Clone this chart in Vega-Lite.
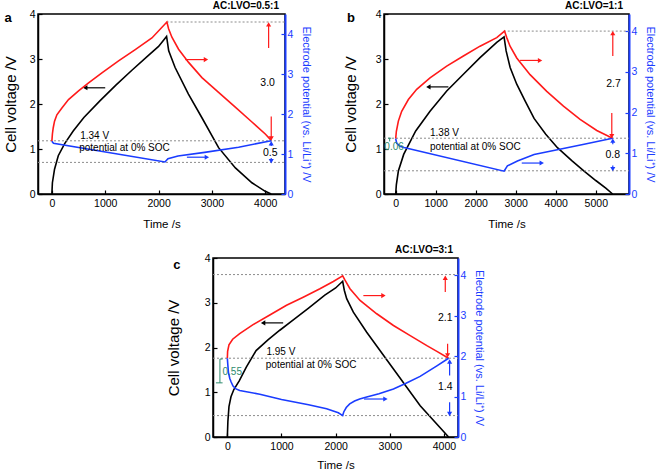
{
"$schema": "https://vega.github.io/schema/vega-lite/v6.json",
"background": "white",
"padding": {"left": 2, "top": 0, "right": 0, "bottom": 0},
"config": {
  "font": "Liberation Sans",
  "view": {"stroke": "black", "strokeWidth": 1.5},
  "axis": {"grid": false, "domainColor": "black", "domainWidth": 1.5, "tickColor": "black", "tickWidth": 1.2, "tickSize": -4, "labelPadding": 7, "labelFont": "Liberation Sans", "labelFontSize": 10.5, "labelColor": "black", "titleFont": "Liberation Sans", "titleFontSize": 11.5, "titleFontWeight": "normal", "titleColor": "black"},
  "axisX": {"titlePadding": 10, "labelPadding": 8, "format": "d"},
  "title": {"font": "Liberation Sans", "fontSize": 10, "fontWeight": "bold", "anchor": "end", "frame": "group", "offset": -2, "color": "black"}
},
"datasets": {
  "curves": [
    {"p":"a","s":"cell","t":0,"v":0},{"p":"a","s":"cell","t":10,"v":0.25},{"p":"a","s":"cell","t":50,"v":0.55},{"p":"a","s":"cell","t":120,"v":0.85},{"p":"a","s":"cell","t":240,"v":1.12},{"p":"a","s":"cell","t":400,"v":1.4},{"p":"a","s":"cell","t":600,"v":1.7},{"p":"a","s":"cell","t":900,"v":2.07},{"p":"a","s":"cell","t":1200,"v":2.42},{"p":"a","s":"cell","t":1500,"v":2.75},{"p":"a","s":"cell","t":1800,"v":3.07},{"p":"a","s":"cell","t":2000,"v":3.28},{"p":"a","s":"cell","t":2150,"v":3.5},{"p":"a","s":"cell","t":2190,"v":3.18},{"p":"a","s":"cell","t":2310,"v":2.81},{"p":"a","s":"cell","t":2560,"v":2.22},{"p":"a","s":"cell","t":2810,"v":1.7},{"p":"a","s":"cell","t":3125,"v":1.03},{"p":"a","s":"cell","t":3440,"v":0.58},{"p":"a","s":"cell","t":3750,"v":0.25},{"p":"a","s":"cell","t":4000,"v":0.06},{"p":"a","s":"cell","t":4110,"v":0},
    {"p":"a","s":"pos","t":0,"v":1.32},{"p":"a","s":"pos","t":10,"v":1.5},{"p":"a","s":"pos","t":25,"v":1.65},{"p":"a","s":"pos","t":50,"v":1.82},{"p":"a","s":"pos","t":94,"v":1.98},{"p":"a","s":"pos","t":188,"v":2.15},{"p":"a","s":"pos","t":312,"v":2.36},{"p":"a","s":"pos","t":500,"v":2.58},{"p":"a","s":"pos","t":688,"v":2.78},{"p":"a","s":"pos","t":938,"v":3.03},{"p":"a","s":"pos","t":1250,"v":3.33},{"p":"a","s":"pos","t":1563,"v":3.61},{"p":"a","s":"pos","t":1875,"v":3.9},{"p":"a","s":"pos","t":2156,"v":4.3},{"p":"a","s":"pos","t":2188,"v":4.13},{"p":"a","s":"pos","t":2250,"v":3.92},{"p":"a","s":"pos","t":2375,"v":3.62},{"p":"a","s":"pos","t":2563,"v":3.29},{"p":"a","s":"pos","t":2813,"v":2.91},{"p":"a","s":"pos","t":3125,"v":2.54},{"p":"a","s":"pos","t":3438,"v":2.17},{"p":"a","s":"pos","t":3750,"v":1.8},{"p":"a","s":"pos","t":4000,"v":1.5},{"p":"a","s":"pos","t":4112,"v":1.34},
    {"p":"a","s":"neg","t":0,"v":1.32},{"p":"a","s":"neg","t":30,"v":1.27},{"p":"a","s":"neg","t":2120,"v":0.8},{"p":"a","s":"neg","t":2176,"v":0.88},{"p":"a","s":"neg","t":2364,"v":0.95},{"p":"a","s":"neg","t":2864,"v":1.04},{"p":"a","s":"neg","t":3500,"v":1.17},{"p":"a","s":"neg","t":4112,"v":1.33},
    {"p":"b","s":"cell","t":0,"v":0},{"p":"b","s":"cell","t":17,"v":0.21},{"p":"b","s":"cell","t":67,"v":0.51},{"p":"b","s":"cell","t":200,"v":0.88},{"p":"b","s":"cell","t":500,"v":1.4},{"p":"b","s":"cell","t":858,"v":1.84},{"p":"b","s":"cell","t":1275,"v":2.29},{"p":"b","s":"cell","t":1692,"v":2.66},{"p":"b","s":"cell","t":2108,"v":3.03},{"p":"b","s":"cell","t":2525,"v":3.37},{"p":"b","s":"cell","t":2708,"v":3.49},{"p":"b","s":"cell","t":2760,"v":3.18},{"p":"b","s":"cell","t":2860,"v":2.81},{"p":"b","s":"cell","t":3025,"v":2.44},{"p":"b","s":"cell","t":3233,"v":2.07},{"p":"b","s":"cell","t":3458,"v":1.68},{"p":"b","s":"cell","t":3750,"v":1.33},{"p":"b","s":"cell","t":4042,"v":1.03},{"p":"b","s":"cell","t":4400,"v":0.74},{"p":"b","s":"cell","t":4708,"v":0.51},{"p":"b","s":"cell","t":5000,"v":0.3},{"p":"b","s":"cell","t":5250,"v":0.13},{"p":"b","s":"cell","t":5420,"v":0},
    {"p":"b","s":"pos","t":0,"v":1.36},{"p":"b","s":"pos","t":17,"v":1.54},{"p":"b","s":"pos","t":67,"v":1.79},{"p":"b","s":"pos","t":150,"v":2.03},{"p":"b","s":"pos","t":317,"v":2.32},{"p":"b","s":"pos","t":525,"v":2.57},{"p":"b","s":"pos","t":858,"v":2.85},{"p":"b","s":"pos","t":1275,"v":3.14},{"p":"b","s":"pos","t":1692,"v":3.39},{"p":"b","s":"pos","t":2108,"v":3.63},{"p":"b","s":"pos","t":2525,"v":3.84},{"p":"b","s":"pos","t":2720,"v":4.0},{"p":"b","s":"pos","t":2775,"v":3.84},{"p":"b","s":"pos","t":2858,"v":3.63},{"p":"b","s":"pos","t":3025,"v":3.34},{"p":"b","s":"pos","t":3358,"v":2.93},{"p":"b","s":"pos","t":3775,"v":2.52},{"p":"b","s":"pos","t":4192,"v":2.16},{"p":"b","s":"pos","t":4608,"v":1.83},{"p":"b","s":"pos","t":5025,"v":1.56},{"p":"b","s":"pos","t":5420,"v":1.37},
    {"p":"b","s":"neg","t":0,"v":1.36},{"p":"b","s":"neg","t":25,"v":1.25},{"p":"b","s":"neg","t":108,"v":1.17},{"p":"b","s":"neg","t":208,"v":1.14},{"p":"b","s":"neg","t":2708,"v":0.56},{"p":"b","s":"neg","t":2792,"v":0.69},{"p":"b","s":"neg","t":3042,"v":0.81},{"p":"b","s":"neg","t":3458,"v":0.97},{"p":"b","s":"neg","t":4100,"v":1.1},{"p":"b","s":"neg","t":4708,"v":1.22},{"p":"b","s":"neg","t":5420,"v":1.37},
    {"p":"c","s":"cell","t":0,"v":0},{"p":"c","s":"cell","t":10,"v":0.35},{"p":"c","s":"cell","t":30,"v":0.68},{"p":"c","s":"cell","t":67,"v":0.9},{"p":"c","s":"cell","t":120,"v":1.06},{"p":"c","s":"cell","t":222,"v":1.26},{"p":"c","s":"cell","t":350,"v":1.56},{"p":"c","s":"cell","t":531,"v":1.93},{"p":"c","s":"cell","t":750,"v":2.17},{"p":"c","s":"cell","t":963,"v":2.38},{"p":"c","s":"cell","t":1200,"v":2.6},{"p":"c","s":"cell","t":1500,"v":2.88},{"p":"c","s":"cell","t":1800,"v":3.17},{"p":"c","s":"cell","t":2000,"v":3.33},{"p":"c","s":"cell","t":2130,"v":3.48},{"p":"c","s":"cell","t":2160,"v":3.28},{"p":"c","s":"cell","t":2204,"v":3.09},{"p":"c","s":"cell","t":2327,"v":2.79},{"p":"c","s":"cell","t":2574,"v":2.34},{"p":"c","s":"cell","t":3068,"v":1.52},{"p":"c","s":"cell","t":3562,"v":0.7},{"p":"c","s":"cell","t":4086,"v":0},
    {"p":"c","s":"pos","t":0,"v":1.95},{"p":"c","s":"pos","t":5,"v":2.12},{"p":"c","s":"pos","t":30,"v":2.28},{"p":"c","s":"pos","t":98,"v":2.42},{"p":"c","s":"pos","t":228,"v":2.56},{"p":"c","s":"pos","t":475,"v":2.78},{"p":"c","s":"pos","t":784,"v":3.02},{"p":"c","s":"pos","t":1093,"v":3.26},{"p":"c","s":"pos","t":1401,"v":3.46},{"p":"c","s":"pos","t":1710,"v":3.67},{"p":"c","s":"pos","t":1957,"v":3.85},{"p":"c","s":"pos","t":2130,"v":3.99},{"p":"c","s":"pos","t":2173,"v":3.88},{"p":"c","s":"pos","t":2265,"v":3.67},{"p":"c","s":"pos","t":2451,"v":3.38},{"p":"c","s":"pos","t":2759,"v":3.05},{"p":"c","s":"pos","t":3068,"v":2.76},{"p":"c","s":"pos","t":3377,"v":2.51},{"p":"c","s":"pos","t":3685,"v":2.26},{"p":"c","s":"pos","t":3870,"v":2.12},{"p":"c","s":"pos","t":4086,"v":1.95},
    {"p":"c","s":"neg","t":0,"v":1.95},{"p":"c","s":"neg","t":8,"v":1.8},{"p":"c","s":"neg","t":20,"v":1.6},{"p":"c","s":"neg","t":45,"v":1.45},{"p":"c","s":"neg","t":70,"v":1.36},{"p":"c","s":"neg","t":105,"v":1.26},{"p":"c","s":"neg","t":160,"v":1.19},{"p":"c","s":"neg","t":228,"v":1.15},{"p":"c","s":"neg","t":600,"v":1.06},{"p":"c","s":"neg","t":1000,"v":0.93},{"p":"c","s":"neg","t":1500,"v":0.8},{"p":"c","s":"neg","t":1833,"v":0.7},{"p":"c","s":"neg","t":2050,"v":0.6},{"p":"c","s":"neg","t":2130,"v":0.53},{"p":"c","s":"neg","t":2150,"v":0.62},{"p":"c","s":"neg","t":2196,"v":0.73},{"p":"c","s":"neg","t":2260,"v":0.82},{"p":"c","s":"neg","t":2350,"v":0.89},{"p":"c","s":"neg","t":2444,"v":0.94},{"p":"c","s":"neg","t":2574,"v":0.99},{"p":"c","s":"neg","t":2800,"v":1.07},{"p":"c","s":"neg","t":3068,"v":1.19},{"p":"c","s":"neg","t":3300,"v":1.33},{"p":"c","s":"neg","t":3560,"v":1.5},{"p":"c","s":"neg","t":3870,"v":1.76},{"p":"c","s":"neg","t":4086,"v":1.95}
  ],
  "dots": [
    {"p":"a","t":2150,"t2":4370,"v":4.3},{"p":"a","t":-260,"t2":4370,"v":1.33},{"p":"a","t":-260,"t2":4370,"v":0.79},
    {"p":"b","t":2700,"t2":5830,"v":4.0},{"p":"b","t":-292,"t2":5830,"v":1.37},{"p":"b","t":-292,"t2":5830,"v":0.57},
    {"p":"c","t":-265,"t2":4260,"v":4.02},{"p":"c","t":-265,"t2":4260,"v":1.95},{"p":"c","t":-265,"t2":4260,"v":0.53}
  ],
  "arrows": [
    {"p":"a","c":"cell","dir":"left","t":625,"v":2.36,"t2":1000,"v2":2.36},
    {"p":"a","c":"pos","dir":"right","t":2888,"v":3.36,"t2":2500,"v2":3.36},
    {"p":"a","c":"neg","dir":"right","t":2906,"v":0.92,"t2":2531,"v2":0.92},
    {"p":"a","c":"pos","dir":"up","t":4063,"v":4.24,"t2":4063,"v2":3.65},
    {"p":"a","c":"pos","dir":"down","t":4112,"v":1.39,"t2":4112,"v2":1.94},
    {"p":"a","c":"neg","dir":"up","t":4112,"v":1.27,"t2":4112,"v2":1.2},
    {"p":"a","c":"neg","dir":"down","t":4112,"v":0.82,"t2":4112,"v2":0.9},
    {"p":"b","c":"cell","dir":"left","t":817,"v":2.38,"t2":1317,"v2":2.38},
    {"p":"b","c":"pos","dir":"right","t":3608,"v":3.28,"t2":3108,"v2":3.28},
    {"p":"b","c":"neg","dir":"right","t":3650,"v":0.76,"t2":3150,"v2":0.76},
    {"p":"b","c":"pos","dir":"up","t":5425,"v":3.95,"t2":5425,"v2":3.39},
    {"p":"b","c":"pos","dir":"down","t":5400,"v":1.42,"t2":5400,"v2":1.99},
    {"p":"b","c":"neg","dir":"up","t":5425,"v":1.31,"t2":5425,"v2":1.22},
    {"p":"b","c":"neg","dir":"down","t":5425,"v":0.61,"t2":5425,"v2":0.7},
    {"p":"c","c":"cell","dir":"left","t":660,"v":2.55,"t2":1031,"v2":2.55},
    {"p":"c","c":"pos","dir":"right","t":2883,"v":3.5,"t2":2512,"v2":3.5},
    {"p":"c","c":"neg","dir":"right","t":2920,"v":0.94,"t2":2525,"v2":0.94},
    {"p":"c","c":"pos","dir":"up","t":4025,"v":3.94,"t2":4025,"v2":3.59},
    {"p":"c","c":"pos","dir":"down","t":4068,"v":2.02,"t2":4068,"v2":2.31},
    {"p":"c","c":"neg","dir":"up","t":4105,"v":1.87,"t2":4105,"v2":1.52},
    {"p":"c","c":"neg","dir":"down","t":4105,"v":0.57,"t2":4105,"v2":0.86}
  ],
  "notes": [
    {"p":"a","k":"note","t":531,"v":1.44,"label":"1.34 V"},
    {"p":"a","k":"note","t":512,"v":1.15,"label":"potential at 0% SOC"},
    {"p":"a","k":"num","t":4044,"v":2.78,"label":"3.0"},
    {"p":"a","k":"num","t":4094,"v":1.03,"label":"0.5"},
    {"p":"b","k":"note","t":858,"v":1.5,"label":"1.38 V"},
    {"p":"b","k":"note","t":858,"v":1.16,"label":"potential at 0% SOC"},
    {"p":"b","k":"num","t":5442,"v":2.69,"label":"2.7"},
    {"p":"b","k":"num","t":5425,"v":0.95,"label":"0.8"},
    {"p":"b","k":"gap","t":-40,"v":1.15,"label":"0.06"},
    {"p":"c","k":"note","t":722,"v":2.1,"label":"1.95 V"},
    {"p":"c","k":"note","t":710,"v":1.79,"label":"potential at 0% SOC"},
    {"p":"c","k":"num","t":4025,"v":2.94,"label":"2.1"},
    {"p":"c","k":"num","t":4025,"v":1.23,"label":"1.4"},
    {"p":"c","k":"gap","t":90,"v":1.6,"label":"0.55"}
  ],
  "brackets": [
    {"p":"b","t":-150,"t2":-150,"v":1.37,"v2":1.29},
    {"p":"b","t":-190,"t2":-110,"v":1.37,"v2":1.37},
    {"p":"c","t":-137,"t2":-137,"v":1.93,"v2":1.34},
    {"p":"c","t":-211,"t2":-88,"v":1.34,"v2":1.34},
    {"p":"c","t":-137,"t2":-88,"v":1.93,"v2":1.93}
  ],
  "labels": [
    {"p":"a","t":-890,"v":3.91,"label":"a"},
    {"p":"b","t":-1217,"v":3.91,"label":"b"},
    {"p":"c","t":-1000,"v":3.84,"label":"c"}
  ],
  "none": []
},
"spacing": 13,
"vconcat": [
  {
    "spacing": 29,
    "hconcat": [
      {
        "width": 247, "height": 180,
        "title": {"text": "AC:LVO=0.5:1", "dx": -6},
        "resolve": {"scale": {"y": "independent"}},
        "layer": [
          {
            "encoding": {
              "x": {"field": "t", "type": "quantitative", "scale": {"domain": [-260, 4370], "nice": false, "zero": false}, "axis": {"title": "Time /s", "values": [0, 1000, 2000, 3000, 4000]}},
              "y": {"field": "v", "type": "quantitative", "scale": {"domain": [0, 4], "nice": false}, "axis": {"title": "Cell voltage /V", "values": [0, 1, 2, 3, 4], "titlePadding": 10.5, "titleFontSize": 15}}
            },
            "layer": [
              {"data": {"name": "curves"}, "transform": [{"filter": "datum.p==='a' && datum.s==='cell'"}], "mark": {"type": "line", "color": "black", "strokeWidth": 1.6}, "encoding": {}},
              {"data": {"name": "arrows"}, "transform": [{"filter": "datum.p==='a' && datum.c==='cell'"}], "mark": {"type": "rule", "color": "black", "strokeWidth": 1.2}, "encoding": {"x2": {"field": "t2"}, "y2": {"field": "v2"}}},
              {"data": {"name": "arrows"}, "transform": [{"filter": "datum.p==='a' && datum.c==='cell'"}], "mark": {"type": "point", "filled": true, "size": 26, "opacity": 1, "color": "black"}, "encoding": {"shape": {"field": "dir", "type": "nominal", "scale": {"domain": ["up", "down", "left", "right"], "range": ["triangle-up", "triangle-down", "triangle-left", "triangle-right"]}, "legend": null}}},
              {"data": {"name": "labels"}, "transform": [{"filter": "datum.p==='a'"}], "mark": {"type": "text", "align": "left", "baseline": "middle", "fontSize": 13, "fontWeight": "bold", "color": "black"}, "encoding": {"text": {"field": "label"}}}
            ]
          },
          {
            "encoding": {
              "x": {"field": "t", "type": "quantitative", "scale": {"domain": [-260, 4370], "nice": false, "zero": false}, "axis": {"title": "Time /s", "values": [0, 1000, 2000, 3000, 4000]}},
              "y": {"field": "v", "type": "quantitative", "scale": {"domain": [0, 4.5], "nice": false}, "axis": {"orient": "right", "title": "Electrode potential (vs. Li/Li⁺) /V", "values": [0, 1, 2, 3, 4], "domainColor": "#1a3cff", "tickColor": "#1a3cff", "labelColor": "#1a3cff", "titleColor": "#1a3cff", "domainWidth": 2, "labelPadding": 6, "titlePadding": 8, "titleFontSize": 11}}
            },
            "layer": [
              {"data": {"name": "dots"}, "transform": [{"filter": "datum.p==='a'"}], "mark": {"type": "rule", "color": "#8c8c8c", "strokeDash": [2, 2], "strokeWidth": 1}, "encoding": {"x2": {"field": "t2"}}},
              {"data": {"name": "curves"}, "transform": [{"filter": "datum.p==='a' && datum.s!=='cell'"}], "mark": {"type": "line", "strokeWidth": 1.6}, "encoding": {"color": {"field": "s", "type": "nominal", "scale": {"domain": ["cell", "pos", "neg", "gap"], "range": ["#000000", "#ff1a1a", "#1a3cff", "#2e8b6e"]}, "legend": null}}},
              {"data": {"name": "arrows"}, "transform": [{"filter": "datum.p==='a' && datum.c!=='cell'"}], "mark": {"type": "rule", "strokeWidth": 1.2}, "encoding": {"x2": {"field": "t2"}, "y2": {"field": "v2"}, "color": {"field": "c", "type": "nominal", "scale": {"domain": ["cell", "pos", "neg", "gap"], "range": ["#000000", "#ff1a1a", "#1a3cff", "#2e8b6e"]}, "legend": null}}},
              {"data": {"name": "arrows"}, "transform": [{"filter": "datum.p==='a' && datum.c!=='cell'"}], "mark": {"type": "point", "filled": true, "size": 26, "opacity": 1}, "encoding": {"color": {"field": "c", "type": "nominal", "scale": {"domain": ["cell", "pos", "neg", "gap"], "range": ["#000000", "#ff1a1a", "#1a3cff", "#2e8b6e"]}, "legend": null}, "shape": {"field": "dir", "type": "nominal", "scale": {"domain": ["up", "down", "left", "right"], "range": ["triangle-up", "triangle-down", "triangle-left", "triangle-right"]}, "legend": null}}},
              {"data": {"name": "notes"}, "transform": [{"filter": "datum.p==='a' && datum.k==='note'"}], "mark": {"type": "text", "align": "left", "baseline": "middle", "fontSize": 10, "color": "black"}, "encoding": {"text": {"field": "label"}}},
              {"data": {"name": "notes"}, "transform": [{"filter": "datum.p==='a' && datum.k==='num'"}], "mark": {"type": "text", "align": "center", "baseline": "middle", "fontSize": 10.5, "color": "black"}, "encoding": {"text": {"field": "label"}}}
            ]
          }
        ]
      },
      {
        "width": 245, "height": 180,
        "title": {"text": "AC:LVO=1:1", "dx": -6},
        "resolve": {"scale": {"y": "independent"}},
        "layer": [
          {
            "encoding": {
              "x": {"field": "t", "type": "quantitative", "scale": {"domain": [-292, 5830], "nice": false, "zero": false}, "axis": {"title": "Time /s", "values": [0, 1000, 2000, 3000, 4000, 5000]}},
              "y": {"field": "v", "type": "quantitative", "scale": {"domain": [0, 4], "nice": false}, "axis": {"title": "Cell voltage /V", "values": [0, 1, 2, 3, 4], "titlePadding": 17, "titleFontSize": 15}}
            },
            "layer": [
              {"data": {"name": "curves"}, "transform": [{"filter": "datum.p==='b' && datum.s==='cell'"}], "mark": {"type": "line", "color": "black", "strokeWidth": 1.6}, "encoding": {}},
              {"data": {"name": "arrows"}, "transform": [{"filter": "datum.p==='b' && datum.c==='cell'"}], "mark": {"type": "rule", "color": "black", "strokeWidth": 1.2}, "encoding": {"x2": {"field": "t2"}, "y2": {"field": "v2"}}},
              {"data": {"name": "arrows"}, "transform": [{"filter": "datum.p==='b' && datum.c==='cell'"}], "mark": {"type": "point", "filled": true, "size": 26, "opacity": 1, "color": "black"}, "encoding": {"shape": {"field": "dir", "type": "nominal", "scale": {"domain": ["up", "down", "left", "right"], "range": ["triangle-up", "triangle-down", "triangle-left", "triangle-right"]}, "legend": null}}},
              {"data": {"name": "labels"}, "transform": [{"filter": "datum.p==='b'"}], "mark": {"type": "text", "align": "left", "baseline": "middle", "fontSize": 13, "fontWeight": "bold", "color": "black"}, "encoding": {"text": {"field": "label"}}}
            ]
          },
          {
            "encoding": {
              "x": {"field": "t", "type": "quantitative", "scale": {"domain": [-292, 5830], "nice": false, "zero": false}, "axis": {"title": "Time /s", "values": [0, 1000, 2000, 3000, 4000, 5000]}},
              "y": {"field": "v", "type": "quantitative", "scale": {"domain": [0, 4.42], "nice": false}, "axis": {"orient": "right", "title": "Electrode potential (vs. Li/Li⁺) /V", "values": [0, 1, 2, 3, 4], "domainColor": "#1a3cff", "tickColor": "#1a3cff", "labelColor": "#1a3cff", "titleColor": "#1a3cff", "domainWidth": 2, "labelPadding": 6, "titlePadding": 8, "titleFontSize": 11}}
            },
            "layer": [
              {"data": {"name": "dots"}, "transform": [{"filter": "datum.p==='b'"}], "mark": {"type": "rule", "color": "#8c8c8c", "strokeDash": [2, 2], "strokeWidth": 1}, "encoding": {"x2": {"field": "t2"}}},
              {"data": {"name": "curves"}, "transform": [{"filter": "datum.p==='b' && datum.s!=='cell'"}], "mark": {"type": "line", "strokeWidth": 1.6}, "encoding": {"color": {"field": "s", "type": "nominal", "scale": {"domain": ["cell", "pos", "neg", "gap"], "range": ["#000000", "#ff1a1a", "#1a3cff", "#2e8b6e"]}, "legend": null}}},
              {"data": {"name": "arrows"}, "transform": [{"filter": "datum.p==='b' && datum.c!=='cell'"}], "mark": {"type": "rule", "strokeWidth": 1.2}, "encoding": {"x2": {"field": "t2"}, "y2": {"field": "v2"}, "color": {"field": "c", "type": "nominal", "scale": {"domain": ["cell", "pos", "neg", "gap"], "range": ["#000000", "#ff1a1a", "#1a3cff", "#2e8b6e"]}, "legend": null}}},
              {"data": {"name": "arrows"}, "transform": [{"filter": "datum.p==='b' && datum.c!=='cell'"}], "mark": {"type": "point", "filled": true, "size": 26, "opacity": 1}, "encoding": {"color": {"field": "c", "type": "nominal", "scale": {"domain": ["cell", "pos", "neg", "gap"], "range": ["#000000", "#ff1a1a", "#1a3cff", "#2e8b6e"]}, "legend": null}, "shape": {"field": "dir", "type": "nominal", "scale": {"domain": ["up", "down", "left", "right"], "range": ["triangle-up", "triangle-down", "triangle-left", "triangle-right"]}, "legend": null}}},
              {"data": {"name": "brackets"}, "transform": [{"filter": "datum.p==='b'"}], "mark": {"type": "rule", "color": "#2e8b6e", "strokeWidth": 1}, "encoding": {"x2": {"field": "t2"}, "y2": {"field": "v2"}}},
              {"data": {"name": "notes"}, "transform": [{"filter": "datum.p==='b' && datum.k==='note'"}], "mark": {"type": "text", "align": "left", "baseline": "middle", "fontSize": 10, "color": "black"}, "encoding": {"text": {"field": "label"}}},
              {"data": {"name": "notes"}, "transform": [{"filter": "datum.p==='b' && datum.k==='num'"}], "mark": {"type": "text", "align": "center", "baseline": "middle", "fontSize": 10.5, "color": "black"}, "encoding": {"text": {"field": "label"}}},
              {"data": {"name": "notes"}, "transform": [{"filter": "datum.p==='b' && datum.k==='gap'"}], "mark": {"type": "text", "align": "center", "baseline": "middle", "fontSize": 10, "color": "#2e8b6e"}, "encoding": {"text": {"field": "label"}}}
            ]
          }
        ]
      }
    ]
  },
  {
    "spacing": 0,
    "hconcat": [
      {"width": 127, "height": 1, "data": {"name": "none"}, "mark": {"type": "point"}, "view": {"stroke": null}},
      {
        "width": 245, "height": 179,
        "title": {"text": "AC:LVO=3:1", "dx": -5},
        "resolve": {"scale": {"y": "independent"}},
        "layer": [
          {
            "encoding": {
              "x": {"field": "t", "type": "quantitative", "scale": {"domain": [-265, 4260], "nice": false, "zero": false}, "axis": {"title": "Time /s", "values": [0, 1000, 2000, 3000, 4000], "titlePadding": 8}},
              "y": {"field": "v", "type": "quantitative", "scale": {"domain": [0, 4], "nice": false}, "axis": {"title": "Cell voltage /V", "values": [0, 1, 2, 3, 4], "titlePadding": 23, "titleFontSize": 15}}
            },
            "layer": [
              {"data": {"name": "curves"}, "transform": [{"filter": "datum.p==='c' && datum.s==='cell'"}], "mark": {"type": "line", "color": "black", "strokeWidth": 1.6}, "encoding": {}},
              {"data": {"name": "arrows"}, "transform": [{"filter": "datum.p==='c' && datum.c==='cell'"}], "mark": {"type": "rule", "color": "black", "strokeWidth": 1.2}, "encoding": {"x2": {"field": "t2"}, "y2": {"field": "v2"}}},
              {"data": {"name": "arrows"}, "transform": [{"filter": "datum.p==='c' && datum.c==='cell'"}], "mark": {"type": "point", "filled": true, "size": 26, "opacity": 1, "color": "black"}, "encoding": {"shape": {"field": "dir", "type": "nominal", "scale": {"domain": ["up", "down", "left", "right"], "range": ["triangle-up", "triangle-down", "triangle-left", "triangle-right"]}, "legend": null}}},
              {"data": {"name": "labels"}, "transform": [{"filter": "datum.p==='c'"}], "mark": {"type": "text", "align": "left", "baseline": "middle", "fontSize": 13, "fontWeight": "bold", "color": "black"}, "encoding": {"text": {"field": "label"}}}
            ]
          },
          {
            "encoding": {
              "x": {"field": "t", "type": "quantitative", "scale": {"domain": [-265, 4260], "nice": false, "zero": false}, "axis": {"title": "Time /s", "values": [0, 1000, 2000, 3000, 4000], "titlePadding": 8}},
              "y": {"field": "v", "type": "quantitative", "scale": {"domain": [0, 4.43], "nice": false}, "axis": {"orient": "right", "title": "Electrode potential (vs. Li/Li⁺) /V", "values": [0, 1, 2, 3, 4], "domainColor": "#1a3cff", "tickColor": "#1a3cff", "labelColor": "#1a3cff", "titleColor": "#1a3cff", "domainWidth": 2, "labelPadding": 6, "titlePadding": 8, "titleFontSize": 11}}
            },
            "layer": [
              {"data": {"name": "dots"}, "transform": [{"filter": "datum.p==='c'"}], "mark": {"type": "rule", "color": "#8c8c8c", "strokeDash": [2, 2], "strokeWidth": 1}, "encoding": {"x2": {"field": "t2"}}},
              {"data": {"name": "curves"}, "transform": [{"filter": "datum.p==='c' && datum.s!=='cell'"}], "mark": {"type": "line", "strokeWidth": 1.6}, "encoding": {"color": {"field": "s", "type": "nominal", "scale": {"domain": ["cell", "pos", "neg", "gap"], "range": ["#000000", "#ff1a1a", "#1a3cff", "#2e8b6e"]}, "legend": null}}},
              {"data": {"name": "arrows"}, "transform": [{"filter": "datum.p==='c' && datum.c!=='cell'"}], "mark": {"type": "rule", "strokeWidth": 1.2}, "encoding": {"x2": {"field": "t2"}, "y2": {"field": "v2"}, "color": {"field": "c", "type": "nominal", "scale": {"domain": ["cell", "pos", "neg", "gap"], "range": ["#000000", "#ff1a1a", "#1a3cff", "#2e8b6e"]}, "legend": null}}},
              {"data": {"name": "arrows"}, "transform": [{"filter": "datum.p==='c' && datum.c!=='cell'"}], "mark": {"type": "point", "filled": true, "size": 26, "opacity": 1}, "encoding": {"color": {"field": "c", "type": "nominal", "scale": {"domain": ["cell", "pos", "neg", "gap"], "range": ["#000000", "#ff1a1a", "#1a3cff", "#2e8b6e"]}, "legend": null}, "shape": {"field": "dir", "type": "nominal", "scale": {"domain": ["up", "down", "left", "right"], "range": ["triangle-up", "triangle-down", "triangle-left", "triangle-right"]}, "legend": null}}},
              {"data": {"name": "brackets"}, "transform": [{"filter": "datum.p==='c'"}], "mark": {"type": "rule", "color": "#2e8b6e", "strokeWidth": 1}, "encoding": {"x2": {"field": "t2"}, "y2": {"field": "v2"}}},
              {"data": {"name": "notes"}, "transform": [{"filter": "datum.p==='c' && datum.k==='note'"}], "mark": {"type": "text", "align": "left", "baseline": "middle", "fontSize": 10, "color": "black"}, "encoding": {"text": {"field": "label"}}},
              {"data": {"name": "notes"}, "transform": [{"filter": "datum.p==='c' && datum.k==='num'"}], "mark": {"type": "text", "align": "center", "baseline": "middle", "fontSize": 10.5, "color": "black"}, "encoding": {"text": {"field": "label"}}},
              {"data": {"name": "notes"}, "transform": [{"filter": "datum.p==='c' && datum.k==='gap'"}], "mark": {"type": "text", "align": "center", "baseline": "middle", "fontSize": 10, "color": "#2e8b6e"}, "encoding": {"text": {"field": "label"}}}
            ]
          }
        ]
      }
    ]
  }
]
}
